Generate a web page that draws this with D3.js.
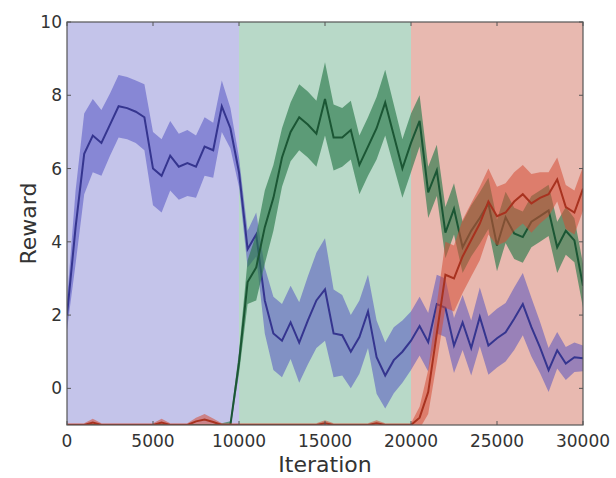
<!DOCTYPE html>
<html>
<head>
<meta charset="utf-8">
<script src="https://cdn.jsdelivr.net/npm/d3@7"></script>
<style>
  body { margin: 0; background: #fff; }
  text { font-family: "DejaVu Sans", sans-serif; fill: #333; }
</style>
</head>
<body>
<script>
// x grid (iterations)
const iterations = [0, 500, 1000, 1500, 2000, 2500, 3000, 3500, 4000, 4500,
  5000, 5500, 6000, 6500, 7000, 7500, 8000, 8500, 9000, 9500,
  10000, 10500, 11000, 11500, 12000, 12500, 13000, 13500, 14000, 14500,
  15000, 15500, 16000, 16500, 17000, 17500, 18000, 18500, 19000, 19500,
  20000, 20500, 21000, 21500, 22000, 22500, 23000, 23500, 24000, 24500,
  25000, 25500, 26000, 26500, 27000, 27500, 28000, 28500, 29000, 29500, 30000];

// blue task
const blueMean = [2.0, 4.4, 6.4, 6.9, 6.7, 7.2, 7.7, 7.65, 7.55, 7.4,
  6.0, 5.8, 6.35, 6.05, 6.15, 6.05, 6.6, 6.5, 7.7, 7.1,
  5.9, 3.8, 4.2, 2.4, 1.5, 1.3, 1.8, 1.25, 1.85, 2.4,
  2.7, 1.5, 1.45, 1.0, 1.4, 2.1, 0.85, 0.35, 0.77, 1.0,
  1.3, 1.7, 1.26, 2.3, 2.2, 1.17, 1.8, 1.1, 1.95, 1.17,
  1.37, 1.53, 1.9, 2.3, 1.67, 1.12, 0.5, 1.04, 0.68, 0.85, 0.82];
const blueSpread = [0.4, 1.0, 1.1, 1.0, 0.9, 0.85, 0.85, 0.85, 0.85, 0.9,
  1.0, 1.0, 0.95, 0.9, 0.9, 0.85, 0.8, 0.75, 0.7, 0.55,
  0.4, 0.5, 0.6, 0.9, 1.0, 1.0, 1.0, 1.1, 1.2, 1.3,
  1.4, 1.2, 1.1, 1.0, 1.0, 1.0, 1.0, 0.9, 0.9, 0.85,
  0.8, 0.8, 0.8, 0.8, 0.8, 0.75, 0.75, 0.75, 0.8, 0.8,
  0.8, 0.8, 0.85, 0.85, 0.8, 0.7, 0.6, 0.5, 0.45, 0.4, 0.35];

// green task
const greenMean = [-1, -1, -1, -1, -1, -1, -1, -1, -1, -1,
  -1, -1, -1, -1, -1, -1, -1, -1, -1, -1,
  0.7, 2.9, 3.3, 4.4, 5.2, 6.3, 7.0, 7.4, 7.2, 6.95,
  7.9, 6.85, 6.85, 7.05, 6.1, 6.6, 7.1, 7.8, 6.9, 6.0,
  6.7, 7.3, 5.35, 5.95, 4.25, 4.9, 3.85, 4.3, 4.65, 5.05,
  3.9, 4.67, 4.23, 4.13, 4.55, 4.7, 4.86, 3.85, 4.3, 4.04, 2.8];
const greenSpread = [0, 0, 0, 0, 0, 0, 0, 0, 0, 0,
  0, 0, 0, 0, 0, 0, 0, 0, 0.05, 0.1,
  0.3, 0.6, 0.9, 1.0, 0.9, 0.8, 0.8, 0.9, 0.9, 0.9,
  1.0, 0.9, 0.8, 0.8, 0.8, 0.8, 0.85, 0.9, 0.85, 0.8,
  0.8, 0.7, 0.7, 0.7, 0.7, 0.7, 0.7, 0.7, 0.7, 0.7,
  0.7, 0.7, 0.7, 0.7, 0.7, 0.7, 0.7, 0.7, 0.65, 0.6, 0.6];

// red task
const redMean = [-1, -1, -1, -0.93, -1, -1, -1, -1, -1, -1,
  -1, -0.93, -1, -1, -1, -0.9, -0.85, -0.92, -1, -1,
  -1, -1, -1, -1, -1, -1, -1, -1, -1, -1,
  -0.95, -1, -1, -1, -1, -1, -0.95, -1, -1, -1,
  -1, -0.8, -0.1, 1.5, 3.1, 3.0, 3.6, 4.05, 4.5, 5.1,
  4.7, 4.8, 5.1, 5.3, 5.05, 5.2, 5.3, 5.7, 4.95, 4.8, 5.45];
const redSpread = [0.05, 0.05, 0.05, 0.1, 0.05, 0.05, 0.05, 0.05, 0.05, 0.05,
  0.05, 0.1, 0.05, 0.05, 0.05, 0.1, 0.15, 0.1, 0.05, 0.05,
  0.05, 0.05, 0.05, 0.05, 0.05, 0.05, 0.05, 0.05, 0.05, 0.05,
  0.08, 0.05, 0.05, 0.05, 0.05, 0.05, 0.08, 0.05, 0.05, 0.05,
  0.05, 0.3, 0.6, 0.8, 0.9, 0.9, 1.0, 1.0, 1.0, 0.9,
  0.8, 0.8, 0.8, 0.8, 0.8, 0.7, 0.6, 0.6, 0.6, 0.6, 0.6];

// phase shading
const phaseStart = [0, 10000, 20000];
const phaseEnd = [10000, 20000, 30000];
const phaseColors = ['#c4c4ea', '#b8d9c8', '#e8b9b0'];

const xTicks = [0, 5000, 10000, 15000, 20000, 25000, 30000];
const yTicks = [0, 2, 4, 6, 8, 10];

let width = 616, height = 478;
let margin = {left: 67, right: 33, top: 22, bottom: 53};

let svg = d3.select('body').append('svg')
  .attr('width', width)
  .attr('height', height);

let x = d3.scaleLinear().domain([0, 30000]).range([margin.left, width - margin.right]);
let y = d3.scaleLinear().domain([-1, 10]).range([height - margin.bottom, margin.top]);

svg.append('clipPath').attr('id', 'plot')
  .append('rect')
  .attr('x', x(0)).attr('y', y(10))
  .attr('width', x(30000) - x(0))
  .attr('height', y(-1) - y(10));

let plot = svg.append('g').attr('clip-path', 'url(#plot)');

// background phases
plot.selectAll('rect.phase')
  .data(phaseStart)
  .enter()
  .append('rect')
  .attr('class', 'phase')
  .attr('x', d => x(d))
  .attr('y', y(10))
  .attr('width', (d, i) => x(phaseEnd[i]) - x(d))
  .attr('height', y(-1) - y(10))
  .attr('fill', (d, i) => phaseColors[i]);

let series = [
  {mean: blueMean, spread: blueSpread, band: '#4a4ac0', bandOpacity: 0.5, line: '#35358f'},
  {mean: greenMean, spread: greenSpread, band: '#2b7a4c', bandOpacity: 0.65, line: '#1b5634'},
  {mean: redMean, spread: redSpread, band: '#d44c34', bandOpacity: 0.55, line: '#a8321f'}
];

let area = d3.area()
  .x(d => x(d.it))
  .y0(d => y(d.m - d.s))
  .y1(d => y(d.m + d.s));
let line = d3.line()
  .x(d => x(d.it))
  .y(d => y(d.m));

series.forEach(s => {
  let pts = iterations.map((it, i) => ({it: it, m: s.mean[i], s: s.spread[i]}));
  plot.append('path')
    .attr('d', area(pts))
    .attr('fill', s.band)
    .attr('fill-opacity', s.bandOpacity);
  plot.append('path')
    .attr('d', line(pts))
    .attr('fill', 'none')
    .attr('stroke', s.line)
    .attr('stroke-width', 2);
});

// frame
svg.append('rect')
  .attr('x', x(0)).attr('y', y(10))
  .attr('width', x(30000) - x(0))
  .attr('height', y(-1) - y(10))
  .attr('fill', 'none')
  .attr('stroke', '#555')
  .attr('stroke-width', 1.2);

// ticks (inward, all four sides)
let ax = svg.append('g').attr('stroke', '#555').attr('stroke-width', 1);
xTicks.forEach(t => {
  ax.append('line').attr('x1', x(t)).attr('x2', x(t)).attr('y1', y(-1)).attr('y2', y(-1) - 4);
  ax.append('line').attr('x1', x(t)).attr('x2', x(t)).attr('y1', y(10)).attr('y2', y(10) + 4);
});
yTicks.forEach(t => {
  ax.append('line').attr('x1', x(0)).attr('x2', x(0) + 4).attr('y1', y(t)).attr('y2', y(t));
  ax.append('line').attr('x1', x(30000)).attr('x2', x(30000) - 4).attr('y1', y(t)).attr('y2', y(t));
});

svg.selectAll('text.xtick')
  .data(xTicks)
  .enter()
  .append('text')
  .attr('class', 'xtick')
  .attr('x', d => x(d))
  .attr('y', 447)
  .attr('text-anchor', 'middle')
  .style('font-size', '17px')
  .text(d => d);

svg.selectAll('text.ytick')
  .data(yTicks)
  .enter()
  .append('text')
  .attr('class', 'ytick')
  .attr('x', x(0) - 5)
  .attr('y', d => y(d))
  .attr('dy', '0.36em')
  .attr('text-anchor', 'end')
  .style('font-size', '17px')
  .text(d => d);

svg.append('text')
  .attr('x', (x(0) + x(30000)) / 2)
  .attr('y', 472)
  .attr('text-anchor', 'middle')
  .style('font-size', '22px')
  .text('Iteration');

svg.append('text')
  .attr('transform', 'translate(36,' + (y(4.5)) + ') rotate(-90)')
  .attr('text-anchor', 'middle')
  .style('font-size', '22px')
  .text('Reward');
</script>
</body>
</html>
